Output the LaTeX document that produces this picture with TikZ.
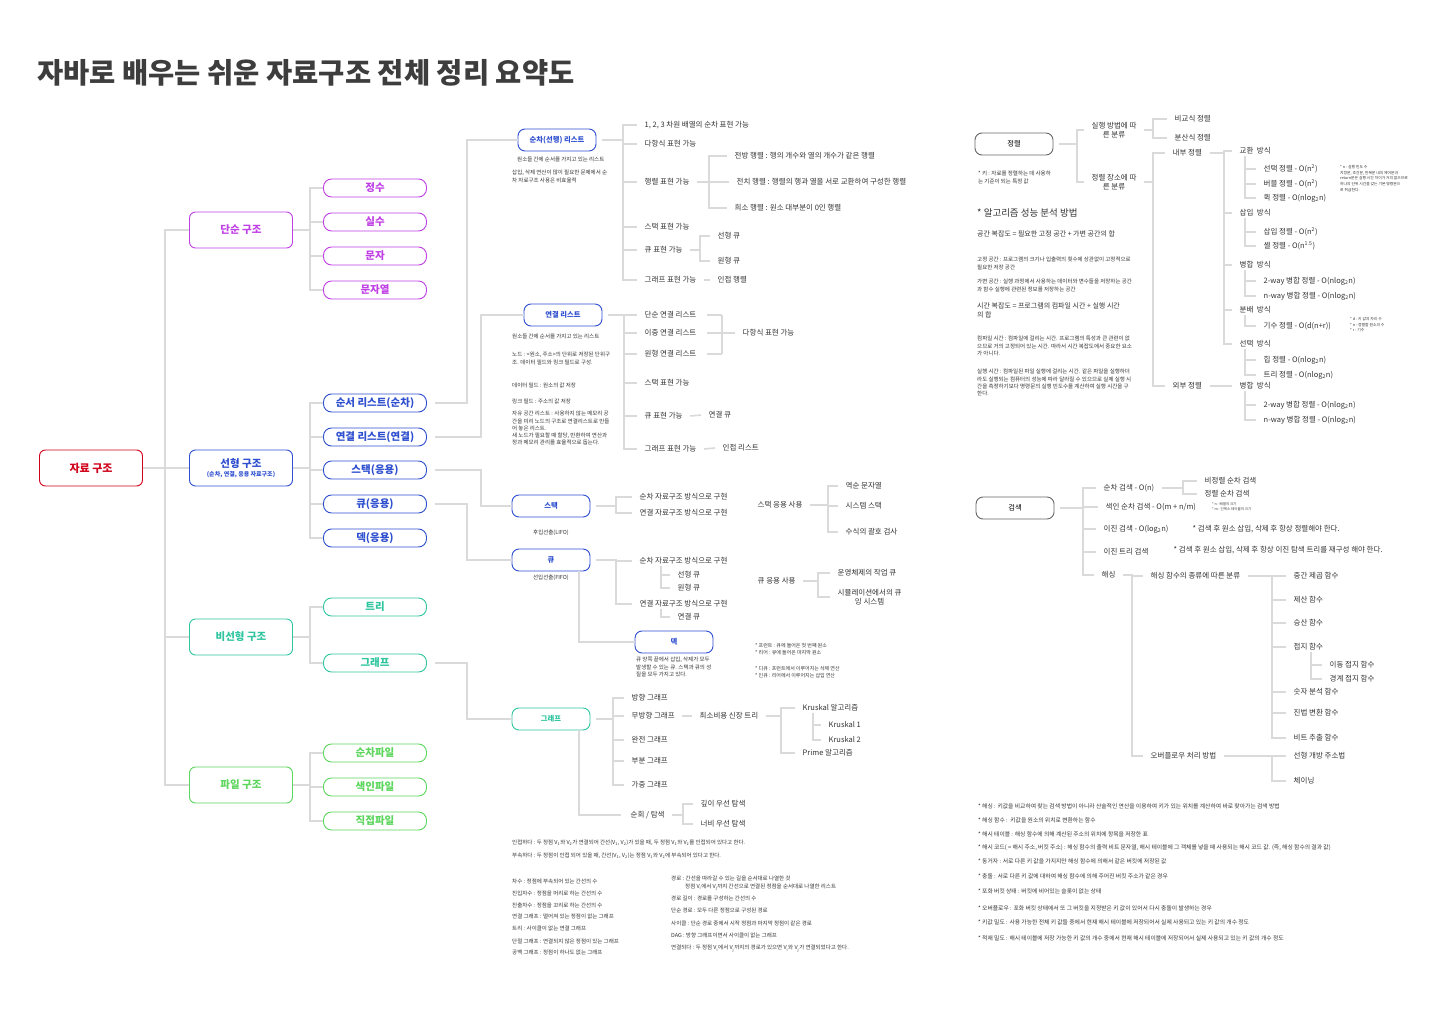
\documentclass[tikz,border=0pt]{standalone}
\usepackage{fontspec}
\setmainfont{Noto Sans CJK KR}
\usetikzlibrary{positioning}

\definecolor{cred}{HTML}{D0021B}
\definecolor{cpur}{HTML}{C040E6}
\definecolor{cblue}{HTML}{2E4FCF}
\definecolor{cteal}{HTML}{2EC59F}
\definecolor{cgrn}{HTML}{5CD65C}
\definecolor{lgray}{HTML}{DADADA}
\definecolor{txt}{HTML}{333333}
\definecolor{bgray}{HTML}{666666}
\definecolor{ttl}{HTML}{3D3D3D}

% fan from a parent to its children through a bracket at x of #3
\newcommand\fan[4][6pt]{\foreach \c in {#4}{\draw[link] ([xshift=#1]#2.east) -- (#2.east -| #3) |- ([xshift=-#1]\c.west);}}
% fan hanging below a parent
\newcommand\subfan[3]{\foreach \c in {#3}{\draw[link] (#1.south -| #2) |- ([xshift=-6pt]\c.west);}}

\begin{document}
\begin{tikzpicture}[x=1pt, y=-1pt,
    link/.style={draw=lgray, line width=1.6pt},
    bigbox/.style={rectangle, draw, line width=0.9pt, rounded corners=6pt, fill=white, minimum width=103pt, minimum height=36pt, align=center, font=\fontsize{10.5}{12}\selectfont\bfseries},
    pill/.style={rectangle, draw, line width=0.9pt, rounded corners=8pt, fill=white, minimum width=103pt, minimum height=18pt, inner sep=0pt, font=\fontsize{10.5}{11}\selectfont\bfseries},
    midbox/.style={rectangle, draw, line width=0.9pt, rounded corners=7pt, fill=white, minimum width=78pt, minimum height=22pt, font=\fontsize{7.3}{8}\selectfont\bfseries},
    graybox/.style={midbox, draw=bgray, text=black, font=\fontsize{7.3}{8}\selectfont},
    item/.style={anchor=west, inner sep=1.5pt, text=txt, align=center, font=\fontsize{7.5}{9.5}\selectfont},
    note/.style={anchor=north west, align=left, inner sep=0pt, text=txt, font=\fontsize{5.5}{7.3}\selectfont},
    hnote/.style={note, font=\fontsize{5.8}{7.3}\selectfont},
    tiny/.style={note, font=\fontsize{3.8}{5.8}\selectfont}
]
    \useasboundingbox (0,0) rectangle (1440,1024);
    \fill[white] (0,0) rectangle (1440,1024);

    % title
    \node[anchor=west, inner sep=0pt, text=ttl, font=\fontsize{28.5}{32}\selectfont\bfseries] (title) at (37,73) {자바로 배우는 쉬운 자료구조 전체 정리 요약도};

    % left tree
    \node[bigbox, draw=cred, text=cred, font=\fontsize{11}{12}\selectfont\bfseries] (root) at (91,468) {자료 구조};
    \node[bigbox, draw=cpur, text=cpur] (simple) at (241,230) {단순 구조};
    \node[bigbox, draw=cblue, text=cblue] (linear) at (241,468) {선형 구조\\[-3pt]{\fontsize{6}{7}\selectfont (순차, 연결, 응용 자료구조)}};
    \node[bigbox, draw=cteal, text=cteal] (nonlin) at (241,637) {비선형 구조};
    \node[bigbox, draw=cgrn, text=cgrn] (files) at (241,785) {파일 구조};

    \foreach \n/\y/\t in {int/188/정수, real/222/실수, chr/256/문자, str/290/문자열}
        \node[pill, draw=cpur, text=cpur] (\n) at (375,\y) {\t};
    \foreach \n/\y/\t in {seqL/403/순서 리스트(순차), lnkL/437/연결 리스트(연결), stk/470/스택(응용), que/504/큐(응용), deq/538/덱(응용)}
        \node[pill, draw=cblue, text=cblue] (\n) at (375,\y) {\t};
    \foreach \n/\y/\t in {tree/607/트리, grph/663/그래프}
        \node[pill, draw=cteal, text=cteal] (\n) at (375,\y) {\t};
    \foreach \n/\y/\t in {sfile/753/순차파일, ifile/787/색인파일, dfile/821/직접파일}
        \node[pill, draw=cgrn, text=cgrn] (\n) at (375,\y) {\t};

    \coordinate (b0) at (165,0);
    \coordinate (b1) at (310,0);
    \fan[0pt]{root}{b0}{simple,linear,nonlin,files}
    \fan[0pt]{simple}{b1}{int,real,chr,str}
    \fan[0pt]{linear}{b1}{seqL,lnkL,stk,que,deq}
    \fan[0pt]{nonlin}{b1}{tree,grph}
    \fan[0pt]{files}{b1}{sfile,ifile,dfile}

    % middle boxes
    \node[midbox, draw=cblue, text=cblue] (seqB) at (557,140) {순차(선행) 리스트};
    \node[midbox, draw=cblue, text=cblue] (lnkB) at (563,315) {연결 리스트};
    \node[midbox, draw=cblue, text=cblue] (stkB) at (551,506) {스택};
    \node[midbox, draw=cblue, text=cblue] (queB) at (551,560) {큐};
    \node[midbox, draw=cblue, text=cblue] (deqB) at (674,642) {덱};
    \node[midbox, draw=cteal, text=cteal] (grphB) at (551,719) {그래프};

    \coordinate (c1) at (467,0);
    \coordinate (c2) at (481,0);
    \draw[link] ([xshift=8pt]seqL.east) -- (seqL.east -| c1) |- (seqB.west);
    \draw[link] ([xshift=8pt]lnkL.east) -- (lnkL.east -| c2) |- (lnkB.west);
    \draw[link] ([xshift=8pt]stk.east) -- (stk.east -| c2) |- (stkB.west);
    \draw[link] ([xshift=8pt]que.east) -- (que.east -| c1) |- (queB.west);
    \draw[link] ([xshift=8pt]grph.east) -- (grph.east -| c1) |- (grphB.west);

    % sequential list
    \node[note] (sq1) at (517,157) {원소들 간에 순서를 가지고 있는 리스트};
    \node[note] (sq2) at (512,170) {삽입, 삭제 연산이 많이 필요한 문제에서 순\\차 자료구조 사용은 비효율적};
    \node[item] (a1) at (643,125) {1, 2, 3 차원 배열의 순차 표현 가능};
    \node[item] (a2) at (643,144) {다항식 표현 가능};
    \node[item] (a3) at (643,182) {행렬 표현 가능};
    \node[item] (a4) at (643,227) {스택 표현 가능};
    \node[item] (a5) at (643,250) {큐 표현 가능};
    \node[item] (a6) at (643,280) {그래프 표현 가능};
    \node[item] (a7) at (733,156) {전방 행렬 : 행의 개수와 열의 개수가 같은 행렬};
    \node[item] (a8) at (735,182) {전치 행렬 : 행렬의 행과 열을 서로 교환하여 구성한 행렬};
    \node[item] (a9) at (733,208) {희소 행렬 : 원소 대부분이 0인 행렬};
    \node[item] (a10) at (716,236) {선형 큐};
    \node[item] (a11) at (716,261) {원형 큐};
    \node[item] (a12) at (716,280) {인접 행렬};
    \coordinate (m1) at (623,0);
    \coordinate (m2) at (709,0);
    \coordinate (m3) at (700,0);
    \fan{seqB}{m1}{a1,a2,a3,a4,a5,a6}
    \fan{a3}{m2}{a7,a8,a9}
    \fan{a5}{m3}{a10,a11}
    \draw[link] ([xshift=6pt]a6.east) -- ([xshift=-6pt]a12.west);

    % linked list
    \node[note] (ln1) at (512,334) {원소들 간에 순서를 가지고 있는 리스트};
    \node[note] (ln2) at (512,352) {노드 : <원소, 주소>의 단위로 저장된 단위구\\조. 데이터 필드와 링크 필드로 구성.};
    \node[note] (ln3) at (512,383) {데이터 필드 : 원소의 값 저장};
    \node[note] (ln4) at (512,399) {링크 필드 : 주소의 값 저장};
    \node[note] (ln5) at (512,411) {자유 공간 리스트 : 사용하지 않는 메모리 공\\간을 미리 노드의 구조로 연결리스트로 만들\\어 놓은 리스트.\\새 노드가 필요할 때 할당, 반환하여 연산과\\정과 메모리 관리를 효율적으로 돕는다.};
    \node[item] (l1) at (643,315) {단순 연결 리스트};
    \node[item] (l2) at (643,333) {이중 연결 리스트};
    \node[item] (l3) at (643,354) {원형 연결 리스트};
    \node[item] (l4) at (643,383) {스택 표현 가능};
    \node[item] (l5) at (643,416) {큐 표현 가능};
    \node[item] (l6) at (643,449) {그래프 표현 가능};
    \node[item] (l7) at (741,333) {다항식 표현 가능};
    \node[item] (l8) at (707,415) {연결 큐};
    \node[item] (l9) at (721,448) {인접 리스트};
    \coordinate (m5) at (624,0);
    \coordinate (m6a) at (707,0);
    \coordinate (m6) at (722,0);
    \fan{lnkB}{m5}{l1,l2,l3,l4,l5,l6}
    \foreach \c in {l1,l2,l3} \draw[link] (\c.east -| m6a) -- (\c.east -| m6);
    \draw[link] (l1.east -| m6) -- (l3.east -| m6);
    \draw[link] (l2.east -| m6) -- ([xshift=-6pt]l7.west);
    \draw[link] ([xshift=6pt]l5.east) -- ([xshift=-6pt]l8.west);
    \draw[link] ([xshift=6pt]l6.east) -- ([xshift=-6pt]l9.west);

    % stack
    \node[note, anchor=north, below=12pt of stkB] (lifo) {후입선출(LIFO)};
    \node[item] (d1) at (638,497) {순차 자료구조 방식으로 구현};
    \node[item] (d2) at (638,513) {연결 자료구조 방식으로 구현};
    \node[item] (d3) at (756,505) {스택 응용 사용};
    \node[item] (e1) at (844,486) {역순 문자열};
    \node[item] (e2) at (844,506) {시스템 스택};
    \node[item] (e3) at (844,532) {수식의 괄호 검사};
    \coordinate (m7) at (616,0);
    \coordinate (m8) at (828,0);
    \fan{stkB}{m7}{d1,d2}
    \fan{d3}{m8}{e1,e2,e3}

    % queue
    \node[note, anchor=north, below=3pt of queB] (fifo) {선입선출(FIFO)};
    \node[item] (f1) at (638,561) {순차 자료구조 방식으로 구현};
    \node[item] (f2) at (638,604) {연결 자료구조 방식으로 구현};
    \node[item] (g1) at (676,575) {선형 큐};
    \node[item] (g2) at (676,588) {원형 큐};
    \node[item] (g3) at (676,617) {연결 큐};
    \node[item] (f3) at (756,581) {큐 응용 사용};
    \node[item] (h1) at (836,573) {운영체제의 작업 큐};
    \node[item] (h2) at (836,597) {시뮬레이션에서의 큐\\잉 시스템};
    \coordinate (m9) at (616,0);
    \coordinate (m10) at (661,0);
    \coordinate (m11) at (818,0);
    \fan{queB}{m9}{f1,f2}
    \subfan{f1}{m10}{g1,g2}
    \subfan{f2}{m10}{g3}
    \fan{f3}{m11}{h1,h2}

    % deque
    \coordinate (dx) at (579,0);
    \draw[link] (queB.south -| dx) |- (deqB.west);
    \node[note] (dq1) at (636,657) {큐 양쪽 끝에서 삽입, 삭제가 모두\\발생할 수 있는 큐. 스택과 큐의 성\\질을 모두 가지고 있다.};
    \node[note, font=\fontsize{5}{6.8}\selectfont] (dq2) at (755,643) {* 프런트 : 큐에 들어온 첫 번째 원소\\* 리어 : 큐에 들어온 마지막 원소};
    \node[note, font=\fontsize{5}{6.8}\selectfont] (dq3) at (755,666) {* 디큐 : 프런트에서 이루어지는 삭제 연산\\* 인큐 : 리어에서 이루어지는 삽입 연산};

    % graph
    \node[item] (k1) at (630,698) {방향 그래프};
    \node[item] (k2) at (630,716) {무방향 그래프};
    \node[item] (k3) at (630,740) {완전 그래프};
    \node[item] (k4) at (630,761) {부분 그래프};
    \node[item] (k5) at (630,785) {가중 그래프};
    \node[item] (k6) at (698,716) {최소비용 신장 트리};
    \node[item] (k7) at (801,708) {Kruskal 알고리즘};
    \node[item] (k8) at (801,753) {Prime 알고리즘};
    \node[item] (k9) at (827,725) {Kruskal 1};
    \node[item] (k10) at (827,740) {Kruskal 2};
    \node[item] (k11) at (629,815) {순회 / 탐색};
    \node[item] (k12) at (699,804) {깊이 우선 탐색};
    \node[item] (k13) at (699,824) {너비 우선 탐색};
    \coordinate (m12) at (613,0);
    \coordinate (m13) at (781,0);
    \coordinate (m14) at (813,0);
    \coordinate (m15) at (683,0);
    \coordinate (gx) at (579,0);
    \fan{grphB}{m12}{k1,k2,k3,k4,k5}
    \draw[link] ([xshift=6pt]k2.east) -- ([xshift=-6pt]k6.west);
    \fan{k6}{m13}{k7,k8}
    \subfan{k7}{m14}{k9,k10}
    \draw[link] (grphB.south -| gx) |- ([xshift=-8pt]k11.west);
    \fan{k11}{m15}{k12,k13}

    % graph terms
    \node[note] (gt1) at (512,840) {인접하다 : 두 정점 V\textsubscript{1}와 V\textsubscript{2}가 연결되어 간선(V\textsubscript{1}, V\textsubscript{2})가 있을 때, 두 정점 V\textsubscript{1}와 V\textsubscript{2}를 인접되어 있다고 한다.};
    \node[note] (gt2) at (512,853) {부속하다 : 두 정점이 인접 되어 있을 때, 간선(V\textsubscript{1}, V\textsubscript{2})는 정점 V\textsubscript{1}와 V\textsubscript{2}에 부속되어 있다고 한다.};
    \foreach \n/\y/\t in {gl1/879/차수 : 정점에 부속되어 있는 간선의 수, gl2/891/진입차수 : 정점을 머리로 하는 간선의 수, gl3/903/진출차수 : 정점을 꼬리로 하는 간선의 수, gl4/914/연결 그래프 : 떨어져 있는 정점이 없는 그래프, gl5/926/트리 : 사이클이 없는 연결 그래프, gl6/939/단절 그래프 : 연결되지 않은 정점이 있는 그래프, gl7/950/공백 그래프 : 정점이 하나도 없는 그래프}
        \node[note] (\n) at (512,\y) {\t};
    \node[note] (gr1) at (671,876) {경로 : 간선을 따라갈 수 있는 길을 순서대로 나열한 것\\\hspace{14pt}정점 V\textsubscript{i}에서 V\textsubscript{j}까지 간선으로 연결된 정점을 순서대로 나열한 리스트};
    \foreach \n/\y/\t in {gr2/896/경로 길이 : 경로를 구성하는 간선의 수, gr3/908/단순 경로 : 모두 다른 정점으로 구성된 경로, gr4/921/사이클 : 단순 경로 중에서 시작 정점과 마지막 정점이 같은 경로, gr5/933/DAG : 방향 그래프이면서 사이클이 없는 그래프}
        \node[note] (\n) at (671,\y) {\t};
    \node[note] (gr6) at (671,945) {연결되다 : 두 정점 V\textsubscript{i}에서 V\textsubscript{j}까지의 경로가 있으면 V\textsubscript{i}와 V\textsubscript{j}가 연결되었다고 한다.};

    % sorting
    \node[graybox] (sortB) at (1014,144) {정렬};
    \node[note] (key) at (978,171) {* 키 : 자료를 정렬하는 데 사용하\\는 기준이 되는 특정 값};
    \node[item] (s1) at (1090,130) {실행 방법에 따\\른 분류};
    \node[item] (s2) at (1090,182) {정렬 장소에 따\\른 분류};
    \node[item] (s3) at (1173,119) {비교식 정렬};
    \node[item] (s4) at (1173,138) {분산식 정렬};
    \node[item] (s5) at (1171,153) {내부 정렬};
    \node[item] (s6) at (1171,386) {외부 정렬};
    \foreach \n/\y/\t in {t1/151/교환, t2/213/삽입, t3/265/병합, t4/310/분배, t5/344/선택, t6/386/병합}
        \node[item] (\n) at (1238,\y) {\t\ \ 방식};
    \node[item] (u1) at (1262,169) {선택 정렬 - O(n\textsuperscript{2})};
    \node[item] (u2) at (1262,184) {버블 정렬 - O(n\textsuperscript{2})};
    \node[item] (u3) at (1262,198) {퀵 정렬 - O(nlog\textsubscript{2}n)};
    \node[item] (u4) at (1262,232) {삽입 정렬 - O(n\textsuperscript{2})};
    \node[item] (u5) at (1262,246) {셸 정렬 - O(n\textsuperscript{1.5})};
    \node[item] (u6) at (1262,281) {2-way 병합 정렬 - O(nlog\textsubscript{2}n)};
    \node[item] (u7) at (1262,296) {n-way 병합 정렬 - O(nlog\textsubscript{2}n)};
    \node[item] (u8) at (1262,326) {기수 정렬 - O(d(n+r))};
    \node[item] (u9) at (1262,360) {힙 정렬 - O(nlog\textsubscript{2}n)};
    \node[item] (u10) at (1262,375) {트리 정렬 - O(nlog\textsubscript{2}n)};
    \node[item] (u11) at (1262,405) {2-way 병합 정렬 - O(nlog\textsubscript{2}n)};
    \node[item] (u12) at (1262,420) {n-way 병합 정렬 - O(nlog\textsubscript{2}n)};
    \coordinate (r1) at (1077,0);
    \coordinate (r2) at (1153,0);
    \coordinate (r3) at (1224,0);
    \coordinate (r4) at (1245,0);
    \fan{sortB}{r1}{s1,s2}
    \fan{s1}{r2}{s3,s4}
    \fan{s2}{r2}{s5,s6}
    \fan{s5}{r3}{t1,t2,t3,t4,t5}
    \draw[link] ([xshift=6pt]s6.east) -- ([xshift=-6pt]t6.west);
    \subfan{t1}{r4}{u1,u2,u3}
    \subfan{t2}{r4}{u4,u5}
    \subfan{t3}{r4}{u6,u7}
    \subfan{t4}{r4}{u8}
    \subfan{t5}{r4}{u9,u10}
    \subfan{t6}{r4}{u11,u12}
    \node[tiny] (nn) at (1340,165) {* n : 실행 빈도 수\\지정문, 조건문, 반복문 내의 제어문과\\return문은 실행 시간 차이가 거의 없으므로\\하나의 단위 시간을 갖는 기본 명령문으\\로 취급한다.};
    \node[tiny] (dn) at (1350,317) {* d : 키 값의 자리 수\\* n : 정렬할 원소의 수\\* r : 기수};

    % complexity
    \node[note, anchor=west, font=\fontsize{9.5}{10}\selectfont] (perf) at (977,213) {* 알고리즘 성능 분석 방법};
    \node[note, anchor=west, font=\fontsize{7}{8}\selectfont] (space) at (977,234) {공간 복잡도 = 필요한 고정 공간 + 가변 공간의 합};
    \node[note] (sp1) at (977,257) {고정 공간 : 프로그램의 크기나 입출력의 횟수에 상관없이 고정적으로\\필요한 저장 공간};
    \node[note] (sp2) at (977,279) {가변 공간 : 실행 과정에서 사용하는 데이터와 변수들을 저장하는 공간\\과 함수 실행에 관련된 정보를 저장하는 공간};
    \node[note, font=\fontsize{7}{9}\selectfont] (time) at (977,303) {시간 복잡도 = 프로그램의 컴파일 시간 + 실행 시간\\의 합};
    \node[note] (tm1) at (977,336) {컴파일 시간 : 컴파일에 걸리는 시간. 프로그램의 특성과 큰 관련이 없\\으므로 거의 고정되어 있는 시간. 따라서 시간 복잡도에서 중요한 요소\\가 아니다.};
    \node[note] (tm2) at (977,369) {실행 시간 : 컴파일된 파일 실행에 걸리는 시간. 같은 파일을 실행하더\\라도 실행되는 컴퓨터의 성능에 따라 달라질 수 있으므로 실제 실행 시\\간을 측정하기보다 명령문의 실행 빈도수를 계산하여 실행 시간을 구\\한다.};

    % searching
    \node[graybox] (srchB) at (1015,508) {검색};
    \node[item] (v1) at (1102,488) {순차 검색 - O(n)};
    \node[item] (v2) at (1104,507) {색인 순차 검색 - O(m + n/m)};
    \node[item] (v3) at (1102,529) {이진 검색 - O(log\textsubscript{2}n)};
    \node[item] (v4) at (1102,552) {이진 트리 검색};
    \node[item] (v5) at (1100,575) {해싱};
    \node[item] (w1) at (1203,481) {비정렬 순차 검색};
    \node[item] (w2) at (1203,494) {정렬 순차 검색};
    \node[tiny, font=\fontsize{3.5}{5.5}\selectfont] (mn) at (1212,502) {* n : 배열의 크기\\* m : 인덱스 테이블의 크기};
    \node[item] (w3) at (1191,529) {* 검색 후 원소 삽입, 삭제 후 항상 정렬해야 한다.};
    \node[item] (w4) at (1172,550) {* 검색 후 원소 삽입, 삭제 후 항상 이진 탐색 트리를 재구성 해야 한다.};
    \node[item] (x1) at (1149,576) {해싱 함수의 종류에 따른 분류};
    \node[item] (x2) at (1149,756) {오버플로우 처리 방법};
    \foreach \n/\y/\t in {y1/576/중간 제곱 함수, y2/600/제산 함수, y3/623/승산 함수, y4/647/접지 함수, y5/692/숫자 분석 함수, y6/713/진법 변환 함수, y7/738/비트 추출 함수, z3/756/선형 개방 주소법, z4/781/체이닝}
        \node[item] (\n) at (1292,\y) {\t};
    \node[item] (z1) at (1328,665) {이동 접지 함수};
    \node[item] (z2) at (1328,679) {경계 접지 함수};
    \coordinate (r5) at (1083,0);
    \coordinate (r6) at (1183,0);
    \coordinate (r7) at (1132,0);
    \coordinate (r8) at (1272,0);
    \coordinate (r9) at (1311,0);
    \fan{srchB}{r5}{v1,v2,v3,v4,v5}
    \fan{v1}{r6}{w1,w2}
    \fan{v5}{r7}{x1,x2}
    \fan{x1}{r8}{y1,y2,y3,y4,y5,y6,y7}
    \fan{x2}{r8}{z3,z4}
    \subfan{y4}{r9}{z1,z2}

    % hashing terms
    \foreach \n/\y/\t in {h1t/803/* 해싱 : 키값을 비교하여 찾는 검색 방법이 아니라 산술적인 연산을 이용하여 키가 있는 위치를 계산하여 바로 찾아가는 검색 방법, h2t/817/* 해싱 함수 :\ \ 키값을 원소의 위치로 변환하는 함수, h3t/831/* 해시 테이블 : 해싱 함수에 의해 계산된 주소의 위치에 항목을 저장한 표, h5t/858/* 동거자 : 서로 다른 키 값을 가지지만 해싱 함수에 의해서 같은 버킷에 저장된 값, h6t/873/* 충돌 : 서로 다른 키 값에 대하여 해싱 함수에 의해 주어진 버킷 주소가 같은 경우, h7t/888/* 포화 버킷 상태 : 버킷에 비어있는 슬롯이 없는 상태, h8t/905/* 오버플로우 : 포화 버킷 상태에서 또 그 버킷을 지정받은 키 값이 있어서 다시 충돌이 발생하는 경우, h9t/919/* 키값 밀도 : 사용 가능한 전체 키 값들 중에서 현재 해시 테이블에 저장되어서 실제 사용되고 있는 키 값의 개수 정도, h10t/935/* 적재 밀도 : 해시 테이블에 저장 가능한 키 값의 개수 중에서 현재 해시 테이블에 저장되어서 실제 사용되고 있는 키 값의 개수 정도}
        \node[hnote] (\n) at (978,\y) {\t};
    \node[hnote] (h4t) at (978,844) {* 해시 코드( = 해시 주소, 버킷 주소) : 해싱 함수의 출력 비트 문자열, 해시 테이블에 그 객체를 넣을 때 사용되는 해시 코드 값. (즉, 해싱 함수의 결과 값)};
\end{tikzpicture}
\end{document}
